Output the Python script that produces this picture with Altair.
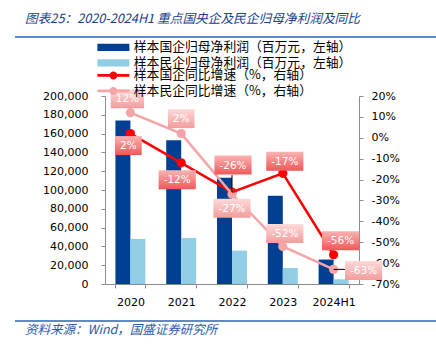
import altair as alt
import pandas as pd

# ---------------- data ----------------
periods = ["2020", "2021", "2022", "2023", "2024H1"]
soe_profit = [174000, 153000, 113000, 94000, 26000]   # 百万元
pe_profit = [48000, 49000, 35500, 17000, 5000]        # 百万元
soe_yoy = [2, -12, -26, -17, -56]                     # %
pe_yoy = [12, 2, -27, -52, -63]                       # %

bar_names = ["样本国企归母净利润（百万元，左轴）", "样本民企归母净利润（百万元，左轴）"]
line_names = ["样本国企同比增速（%，右轴）", "样本民企同比增速（%，右轴）"]

title_text = "图表25：2020-2024H1 重点国央企及民企归母净利润及同比"
source_text = "资料来源：Wind，国盛证券研究所"

# ---------------- style ----------------
bar_colors = ["#003F91", "#92CDE6"]
line_colors = ["#FF0000", "#F5A5A7"]
box_grads = [["#FBB3B3", "#EE5858"], ["#FDDADA", "#F39C9C"]]
# label box offsets (dx, dy) in pixels, per series, per period
label_offsets = [
    [(-2, 12), (-4, 17), (1, -27), (2, -12), (7, -14)],
    [(-3, -14), (0, -15), (0, 14), (2, -13), (30, 1)],
]

bars_df = pd.DataFrame({
    "period": periods * 2,
    "series": [bar_names[0]] * 5 + [bar_names[1]] * 5,
    "value": soe_profit + pe_profit,
})
lines_df = pd.DataFrame({
    "period": periods * 2,
    "series": [line_names[0]] * 5 + [line_names[1]] * 5,
    "pct": soe_yoy + pe_yoy,
    "label": [f"{v}%" for v in soe_yoy + pe_yoy],
})

AX = dict(domainColor="#8C8C8C", tickColor="#8C8C8C", tickSize=4,
          labelFont="DejaVu Sans", labelFontSize=11, labelColor="#000000",
          grid=False, title=None)

x_enc = alt.X("period:N", sort=periods,
              scale=alt.Scale(paddingInner=0.41, paddingOuter=0.205),
              axis=alt.Axis(labelAngle=0, tickBand="extent", labelPadding=8, **AX))
x_plain = alt.X("period:N", sort=periods)

LEG = dict(title=None, orient="none", symbolSize=100, symbolStrokeWidth=0,
           labelFont="Noto Sans CJK SC", labelFontSize=12.8, labelColor="#000000",
           labelOffset=25, rowPadding=1.5, labelLimit=400, padding=0)
bar_legend = alt.Legend(legendX=-9, legendY=-55,
                        symbolType="M-1,-0.74H5.4V0.74H-1Z", **LEG)
line_legend = alt.Legend(legendX=-9, legendY=-27, symbolOpacity=1,
                         symbolType="M-1,-0.26H5.4V0.26H-1Z M3,0A0.8,0.8,0,1,1,1.4,0A0.8,0.8,0,1,1,3,0Z",
                         **LEG)

bars = alt.Chart(bars_df).mark_bar().encode(
    x=x_enc,
    xOffset=alt.XOffset("series:N", sort=bar_names,
                        scale=alt.Scale(paddingInner=0, paddingOuter=0)),
    y=alt.Y("value:Q", scale=alt.Scale(domain=[0, 200000], nice=False),
            axis=alt.Axis(orient="left", values=list(range(0, 200001, 20000)),
                          format=",d", labelPadding=13, **AX)),
    color=alt.Color("series:N", sort=bar_names,
                    scale=alt.Scale(domain=bar_names, range=bar_colors),
                    legend=bar_legend),
)

y_pct = alt.Y("pct:Q", scale=alt.Scale(domain=[-70, 20], nice=False),
              axis=alt.Axis(orient="right", values=list(range(-70, 21, 10)),
                            labelExpr="datum.value + '%'", labelPadding=8, **AX))
line_color = alt.Color("series:N", sort=line_names,
                       scale=alt.Scale(domain=line_names, range=line_colors),
                       legend=line_legend)

base = alt.Chart(lines_df)
points = base.mark_point(filled=True, size=85, opacity=1).encode(
    x=x_plain, y=y_pct, color=line_color)
lines = base.mark_line(strokeWidth=2.5).encode(
    x=x_plain, y=y_pct, color=line_color, detail="series:N")

leaders = [
    base.transform_filter(
        (alt.datum.series == line_names[0]) & (alt.datum.period == "2022")
    ).mark_rule(color="#000000", strokeWidth=1, y2Offset=-17).encode(
        x=x_plain, y=y_pct, y2=alt.Y2("pct:Q")),
    base.transform_filter(
        (alt.datum.series == line_names[1]) & (alt.datum.period == "2024H1")
    ).mark_rule(color="#000000", strokeWidth=1, x2Offset=12).encode(
        x=x_plain, x2=alt.X2("period:N"), y=y_pct),
]


def box_path(label):
    nd = sum(c.isdigit() for c in label)
    nm = label.count("-")
    w = 10.5 * (0.636 * nd + 0.361 * nm + 0.95) + 10
    h = 19
    return f"M{-w/2:.1f},{-h/2:.1f}H{w/2:.1f}V{h/2:.1f}H{-w/2:.1f}Z"


label_layers = []
for si, name in enumerate(line_names):
    vals = soe_yoy if si == 0 else pe_yoy
    grad = alt.LinearGradient(
        gradient="linear", x1=0, y1=0, x2=0, y2=1,
        stops=[alt.GradientStop(color=box_grads[si][0], offset=0),
               alt.GradientStop(color=box_grads[si][1], offset=1)])
    for pi, p in enumerate(periods):
        dx, dy = label_offsets[si][pi]
        lab = f"{vals[pi]}%"
        sub = base.transform_filter(
            (alt.datum.series == name) & (alt.datum.period == p))
        label_layers.append(
            sub.mark_point(shape=box_path(lab), size=4, filled=True, fill=grad,
                           opacity=1, strokeWidth=0, xOffset=dx, yOffset=dy)
            .encode(x=x_plain, y=y_pct))
        label_layers.append(
            sub.mark_text(color="#FFFFFF", font="DejaVu Sans", fontSize=10.5,
                          align="center", baseline="middle", dx=dx, dy=dy + 0.5)
            .encode(x=x_plain, y=y_pct, text="label:N"))

right = alt.layer(points, lines, *leaders, *label_layers)

dummy = pd.DataFrame({"t": [title_text], "s": [source_text]})
deco = alt.Chart(dummy)
top_rule = deco.mark_rule(color="#2C62B6", strokeWidth=1.5).encode(
    x=alt.value(-90), x2=alt.value(331), y=alt.value(-59))
bot_rule = deco.mark_rule(color="#2C62B6", strokeWidth=1.5).encode(
    x=alt.value(-90), x2=alt.value(331), y=alt.value(225))
title_mark = deco.mark_text(align="left", baseline="middle", font="Noto Sans CJK SC",
                            fontSize=12.7, fontStyle="italic", color="#203F8C").encode(
    x=alt.value(-80), y=alt.value(-77), text="t:N")
source_mark = deco.mark_text(align="left", baseline="middle", font="Noto Sans CJK SC",
                             fontSize=12.5, fontStyle="italic", color="#2C5AAE").encode(
    x=alt.value(-80), y=alt.value(234), text="s:N")

chart = alt.layer(bars, right, top_rule, bot_rule, title_mark, source_mark).resolve_scale(
    y="independent", color="independent"
).properties(
    width=254, height=188,
    autosize=alt.AutoSizeParams(type="none"),
    padding={"left": 105, "top": 96, "right": 77, "bottom": 60},
    background="#FFFFFF",
).configure_view(stroke=None)

chart.save("out.html", embed_options={"renderer": "svg", "actions": False})
